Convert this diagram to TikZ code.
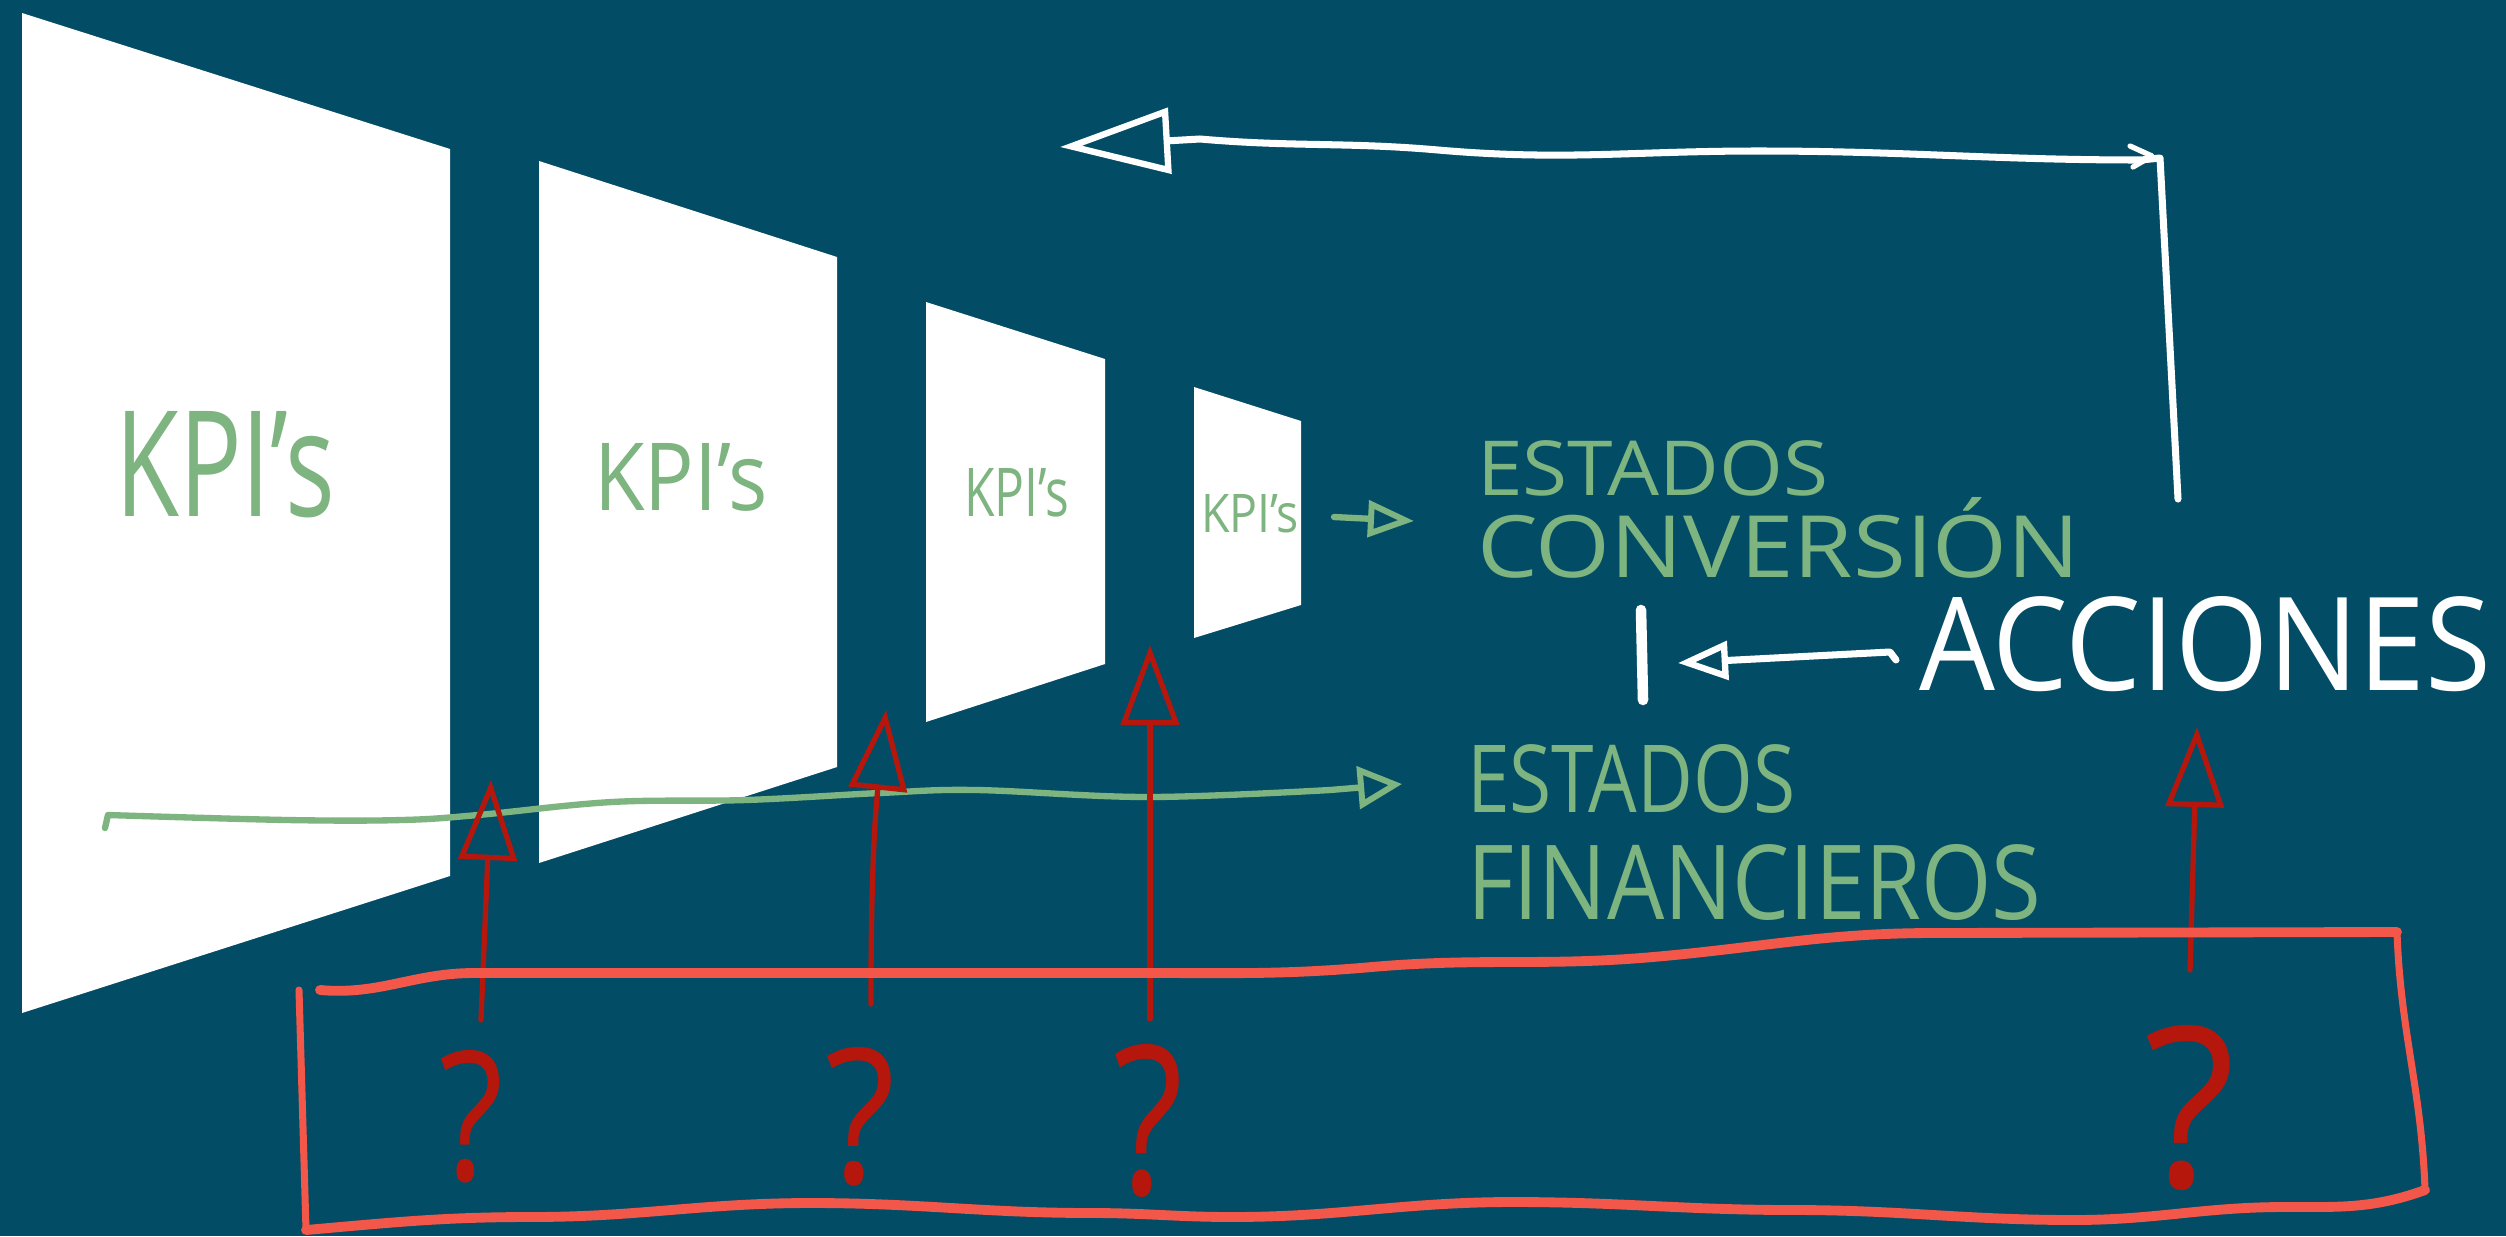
\documentclass[tikz,border=0pt]{standalone}
\usepackage{fontspec}
\setmainfont{Open Sans}
\usetikzlibrary{arrows.meta}
\definecolor{bg}{HTML}{034C66}
\definecolor{hgreen}{HTML}{7DB47F}
\definecolor{dred}{HTML}{B5170C}
\definecolor{coral}{HTML}{F2574A}
\newcommand{\fitbox}[3]{\resizebox{#1cm}{#2cm}{#3}}
\begin{document}
\begin{tikzpicture}[x=0.01cm,y=-0.01cm,
  lbl/.style={inner sep=0pt, outer sep=0pt, anchor=north west},
  gtxt/.style={lbl, text=hgreen},
  wtxt/.style={lbl, text=white},
  qtxt/.style={lbl, text=dred},
  panel/.style={fill=white},
  garrow/.style={draw=hgreen, line width=1.8pt, line cap=round, line join=round, -{Triangle[open,length=4.4mm,width=4.2mm,line width=1.7pt]}},
  rarrow/.style={draw=dred, line width=1.5pt, line cap=round, -{Triangle[open,length=8mm,width=5.8mm,line width=1.5pt]}},
  warrow/.style={draw=white, line width=2pt, line cap=round, line join=round},
  cbox/.style={draw=coral, line width=2.8pt, line cap=round, line join=round}]
\useasboundingbox (0,0) rectangle (2506,1236);
\fill[bg] (0,0) rectangle (2506,1236);

% perspective panels
\fill[panel] (22,13) -- (450,149) -- (450,876) -- (22,1013) -- cycle;
\fill[panel] (539,161) -- (837,257) -- (837,767) -- (539,863) -- cycle;
\fill[panel] (926,302) -- (1105,359) -- (1105,664) -- (926,722) -- cycle;
\fill[panel] (1194,387) -- (1301,421) -- (1301,605) -- (1194,638) -- cycle;

% KPI labels
\node[gtxt] (k1) at (115,411) {\fitbox{2.2}{1.05}{KPI's}};
\node[gtxt] (k2) at (594,443) {\fitbox{1.74}{0.67}{KPI's}};
\node[gtxt] (k3) at (964,468) {\fitbox{1.05}{0.48}{KPI's}};
\node[gtxt] (k4) at (1201,494) {\fitbox{0.98}{0.38}{KPI's}};

% green texts
\node[gtxt] (est1) at (1477,440) {\fitbox{3.51}{0.55}{ESTADOS}};
\node[gtxt] (conv) at (1477,497) {\fitbox{6.03}{0.80}{CONVERSIÓN}};
\node[gtxt] (est2) at (1467,744) {\fitbox{3.28}{0.68}{ESTADOS}};
\node[gtxt] (fin) at (1467,844) {\fitbox{5.74}{0.75}{FINANCIEROS}};

% ACCIONES
\node[wtxt] (acc) at (1919,596) {\fitbox{5.72}{0.94}{ACCIONES}};

% green arrows
\coordinate (g1s) at (1334,517);
\coordinate (g1e) at (1414,521);
\draw[garrow, -{Triangle[open,length=4.6mm,width=3.6mm,line width=1.7pt]}] (g1s) -- (g1e);
\coordinate (g2s) at (105,828);
\coordinate (g2e) at (1402,784);
\draw[garrow] (g2s) -- (108,815) plot[smooth, tension=0.6] coordinates {(108,815) (287,820) (402,820) (478,815) (612,802) (746,800) (880,793) (976,790) (1148,797) (1330,790)} -- (g2e);

% white bar and arrow from ACCIONES
\coordinate (barT) at (1641,610);
\coordinate (barB) at (1643,700);
\draw[white, line width=3pt, line cap=round] (barT) -- (barB);
\coordinate (accL) at (1896,660);
\coordinate (barA) at (1678,663);
\draw[warrow, -{Triangle[open,length=5mm,width=3.8mm,line width=1.8pt]}] (accL) -- (1890,652) -- (barA);

% white loop arrow
\coordinate (loopS) at (2178,499);
\coordinate (loopC) at (2160,158);
\coordinate (loopE) at (1060,147);
\draw[warrow, -{Triangle[open,length=11mm,width=6.5mm,line width=1.8pt]}] (loopS) -- (loopC) -- (2141,160)
  to[out=180,in=0] (1758,151) to[out=180,in=-5] (1438,150) to[out=175,in=-5] (1200,139) -- (loopE);
\draw[warrow, line width=1.5pt] (2130,146) -- (2152,156) -- (2133,167);

% question marks
\node[qtxt] (q1) at (439,1050) {\fitbox{0.64}{1.30}{?}};
\node[qtxt] (q2) at (825,1047) {\fitbox{0.70}{1.36}{?}};
\node[qtxt] (q3) at (1113,1044) {\fitbox{0.70}{1.50}{?}};
\node[qtxt] (q4) at (2144,1025) {\fitbox{0.91}{1.62}{?}};

% red arrows
\coordinate (r1s) at (481,1020); \coordinate (r1e) at (491,780);
\coordinate (r2s) at (871,1004); \coordinate (r2e) at (886,710);
\coordinate (r3s) at (1150,1019); \coordinate (r3e) at (1150,645);
\coordinate (r4s) at (2190,970); \coordinate (r4e) at (2197,727);
\draw[rarrow] (r1s) -- (r1e);
\draw[rarrow] (r2s) to[bend left=3] (r2e);
\draw[rarrow] (r3s) -- (r3e);
\draw[rarrow] (r4s) -- (r4e);

% coral box
\draw[cbox] (320,990) to[out=-5,in=180] (474,973) to[out=0,in=180] (867,973)
  to[out=0,in=180] (1148,973) to[out=0,in=185] (1372,967) to[out=5,in=185] (1653,957)
  to[out=5,in=180] (1934,933) -- (2397,932);
\draw[cbox, line width=2pt] (2397,932) to[out=-88,in=92] (2425,1190);
\draw[cbox] (2425,1190) to[out=200,in=0] (2285,1207) to[out=180,in=0] (2074,1220)
  to[out=180,in=0] (1793,1210) to[out=180,in=0] (1513,1202) to[out=180,in=0] (1232,1217)
  to[out=180,in=0] (1092,1213) to[out=180,in=0] (811,1203) to[out=180,in=0] (531,1217)
  to[out=180,in=5] (306,1230);
\draw[cbox, line width=2pt] (299,990) -- (306,1230);
\end{tikzpicture}
\end{document}
